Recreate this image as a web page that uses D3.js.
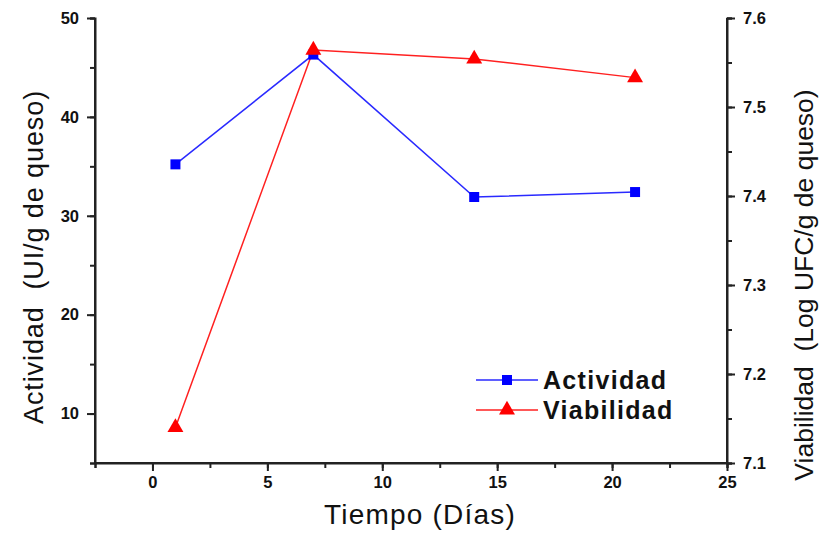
<!DOCTYPE html>
<html lang="es">
<head>
    <meta charset="utf-8">
    <title>Actividad y Viabilidad</title>
    <script src="https://cdn.jsdelivr.net/npm/d3@7"></script>
    <style>
        body { margin: 0; background: #fff; }
        text { font-family: "Liberation Sans", Arial, sans-serif; }
        .tick text { font-weight: bold; font-size: 16.5px; fill: #111; }
        .domain, .tick line { stroke: #222; stroke-width: 2px; }
        .title { white-space: pre; fill: #111; }
    </style>
</head>
<body>
<div id="chart"></div>
<script>
    // data
    const dias = [1, 7, 14, 21];
    const actividad = [35.2, 46.3, 31.9, 32.4];
    const viabilidad = [7.140, 7.564, 7.554, 7.533];

    const xTicks = [0, 5, 10, 15, 20, 25];
    const yLeftTicks = [10, 20, 30, 40, 50];
    const yRightTicks = [7.1, 7.2, 7.3, 7.4, 7.5, 7.6];

    const width = 823, height = 533;
    const m = { top: 18, right: 96, bottom: 70, left: 95 };

    const svg = d3.select("#chart").append("svg")
        .attr("width", width)
        .attr("height", height);

    const x = d3.scaleLinear().domain([-2.5, 25]).range([m.left, width - m.right]);
    const yL = d3.scaleLinear().domain([5, 50]).range([height - m.bottom, m.top]);
    const yR = d3.scaleLinear().domain([7.1, 7.6]).range([height - m.bottom, m.top]);

    // minor ticks first, then major axes on top
    svg.append("g")
        .attr("transform", `translate(0,${height - m.bottom})`)
        .call(d3.axisBottom(x).tickValues(d3.range(-2.5, 25.1, 2.5)).tickSize(5).tickFormat(""));
    svg.append("g")
        .attr("transform", `translate(${m.left},0)`)
        .call(d3.axisLeft(yL).tickValues(d3.range(5, 50.1, 5)).tickSize(5).tickFormat(""));
    svg.append("g")
        .attr("transform", `translate(${width - m.right},0)`)
        .call(d3.axisRight(yR).tickValues(d3.range(7.1, 7.61, 0.05)).tickSize(5).tickFormat(""));

    svg.append("g")
        .attr("transform", `translate(0,${height - m.bottom})`)
        .call(d3.axisBottom(x).tickValues(xTicks).tickSize(8).tickPadding(5).tickFormat(d3.format("d")))
        .call(g => g.select(".domain").attr("d", `M${m.left},0H${width - m.right}`));

    svg.append("g")
        .attr("transform", `translate(${m.left},0)`)
        .call(d3.axisLeft(yL).tickValues(yLeftTicks).tickSize(8).tickPadding(8))
        .call(g => g.select(".domain").attr("d", `M0,${m.top}V${height - m.bottom}`));

    svg.append("g")
        .attr("transform", `translate(${width - m.right},0)`)
        .call(d3.axisRight(yR).tickValues(yRightTicks).tickSize(8).tickPadding(8).tickFormat(d3.format(".1f")))
        .call(g => g.select(".domain").attr("d", `M0,${m.top}V${height - m.bottom}`));

    // axis titles
    svg.append("text")
        .attr("class", "title")
        .attr("transform", "translate(43,257) rotate(-90)")
        .attr("text-anchor", "middle")
        .style("font-size", "27px")
        .style("letter-spacing", "0.9px")
        .text("Actividad  (UI/g de queso)");

    svg.append("text")
        .attr("class", "title")
        .attr("transform", "translate(813,285) rotate(-90)")
        .attr("text-anchor", "middle")
        .style("font-size", "26.5px")
        .text("Viabilidad  (Log UFC/g de queso)");

    svg.append("text")
        .attr("class", "title")
        .attr("x", 420)
        .attr("y", 524)
        .attr("text-anchor", "middle")
        .style("font-size", "28px")
        .style("letter-spacing", "1.2px")
        .text("Tiempo (Días)");

    // series
    const lineA = d3.line().x((d, i) => x(dias[i])).y(d => yL(d));
    const lineV = d3.line().x((d, i) => x(dias[i])).y(d => yR(d));

    svg.append("path").datum(viabilidad)
        .attr("d", lineV).attr("fill", "none").attr("stroke", "#ff2020").attr("stroke-width", 1.5);
    svg.append("path").datum(actividad)
        .attr("d", lineA).attr("fill", "none").attr("stroke", "#2a2aff").attr("stroke-width", 1.5);

    const sq = d3.symbol().type(d3.symbolSquare).size(100);
    const tri = d3.symbol().type(d3.symbolTriangle).size(110);

    svg.append("g").selectAll("path")
        .data(actividad).join("path")
        .attr("d", sq)
        .attr("transform", (d, i) => `translate(${x(dias[i])},${yL(d)})`)
        .attr("fill", "#0000ff");

    svg.append("g").selectAll("path")
        .data(viabilidad).join("path")
        .attr("d", tri)
        .attr("transform", (d, i) => `translate(${x(dias[i])},${yR(d)})`)
        .attr("fill", "#ff0000");

    // legend
    const legend = [
        { name: "Actividad", color: "#2a2aff", fill: "#0000ff", sym: sq },
        { name: "Viabilidad", color: "#ff2020", fill: "#ff0000", sym: tri }
    ];
    const lg = svg.append("g").attr("transform", "translate(476,380)");
    legend.forEach((l, i) => {
        const g = lg.append("g").attr("transform", `translate(0,${i * 30})`);
        g.append("line").attr("x1", 0).attr("x2", 62).attr("y1", 0).attr("y2", 0)
            .attr("stroke", l.color).attr("stroke-width", 1.5);
        g.append("path").attr("d", l.sym).attr("transform", "translate(31,0)").attr("fill", l.fill);
        g.append("text").attr("x", 67).attr("y", 9)
            .style("font-size", "25px").style("font-weight", "bold")
            .style("letter-spacing", "1.3px").style("fill", "#111")
            .text(l.name);
    });
</script>
</body>
</html>
